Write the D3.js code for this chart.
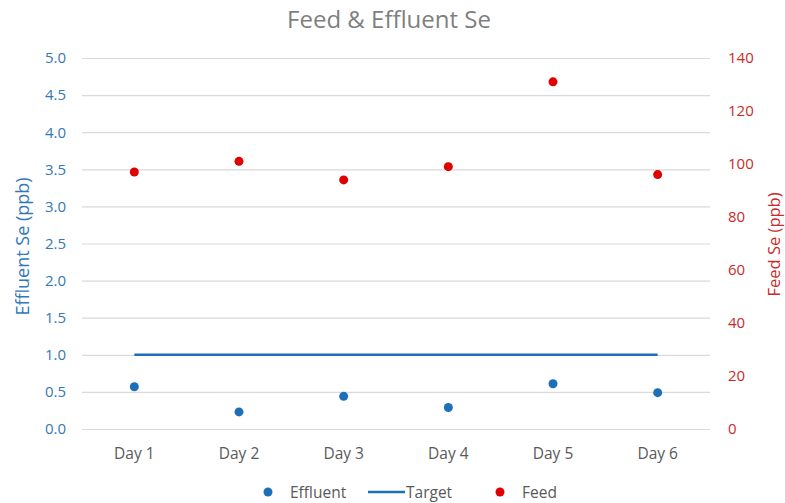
<!DOCTYPE html>
<html>
<head>
<meta charset="utf-8">
<script src="https://cdn.jsdelivr.net/npm/d3@7"></script>
<style>
  html, body { margin: 0; padding: 0; background: #fff; }
  svg { display: block; font-family: "Open Sans", "Noto Sans", sans-serif; }
</style>
</head>
<body>
<svg id="chart" width="785" height="503"></svg>
<script>
// Daily selenium readings
const days = ["Day 1", "Day 2", "Day 3", "Day 4", "Day 5", "Day 6"];
const effluent = [0.57, 0.23, 0.44, 0.29, 0.61, 0.49];   // ppb, left axis
const feed = [97, 101, 94, 99, 131, 96];                 // ppb, right axis
const target = [1.0, 1.0, 1.0, 1.0, 1.0, 1.0];           // ppb, left axis
const leftTicks = [0, 0.5, 1, 1.5, 2, 2.5, 3, 3.5, 4, 4.5, 5];
const rightTicks = [0, 20, 40, 60, 80, 100, 120, 140];

const blue = "#1f6fb8";
const red = "#e00000";
const leftTextColor = "#3478b8";
const rightTextColor = "#cc2a2a";
const tickFont = 15;

const svg = d3.select("#chart");
const margin = { left: 82, right: 75, top: 58, bottom: 74 };
const W = 785, H = 503;

const x = d3.scaleBand().domain(days).range([margin.left, W - margin.right]);
const yL = d3.scaleLinear().domain([0, 5]).range([H - margin.bottom, margin.top]);
const yR = d3.scaleLinear().domain([0, 140]).range([H - margin.bottom, margin.top]);
const cx = d => x(d) + x.bandwidth() / 2;

// Title
svg.append("text")
  .attr("x", 389).attr("y", 28)
  .attr("text-anchor", "middle")
  .attr("fill", "#7f7f7f")
  .attr("font-size", 24)
  .text("Feed & Effluent Se");

// Gridlines + left axis
const leftAxis = svg.append("g")
  .attr("transform", `translate(${margin.left},0)`)
  .call(d3.axisLeft(yL).tickValues(leftTicks).tickFormat(d3.format(".1f"))
    .tickSize(-(W - margin.left - margin.right)).tickPadding(16));
leftAxis.select(".domain").remove();
leftAxis.selectAll(".tick line").attr("stroke", "#d9d9d9").attr("stroke-width", 1.2);
leftAxis.selectAll(".tick text").attr("fill", leftTextColor).attr("font-size", tickFont)
  .attr("font-family", "'Open Sans', sans-serif");

// Right axis
const rightAxis = svg.append("g")
  .attr("transform", `translate(${W - margin.right},0)`)
  .call(d3.axisRight(yR).tickValues(rightTicks).tickSize(0).tickPadding(18));
rightAxis.select(".domain").remove();
rightAxis.selectAll(".tick text").attr("fill", rightTextColor).attr("font-size", tickFont)
  .attr("font-family", "'Open Sans', sans-serif");

// Category axis
const bottomAxis = svg.append("g")
  .attr("transform", `translate(0,${H - margin.bottom})`)
  .call(d3.axisBottom(x).tickSize(0).tickPadding(19));
bottomAxis.select(".domain").remove();
bottomAxis.selectAll(".tick text").attr("fill", "#595959").attr("font-size", 15.5)
  .attr("font-family", "'Open Sans', sans-serif");

// Axis titles
svg.append("text")
  .attr("transform", `translate(29,${(yL(0) + yL(5)) / 2 + 3}) rotate(-90)`)
  .attr("text-anchor", "middle")
  .attr("fill", leftTextColor)
  .attr("font-size", 18)
  .text("Effluent Se (ppb)");
svg.append("text")
  .attr("transform", `translate(780,${(yL(0) + yL(5)) / 2 + 1}) rotate(-90)`)
  .attr("text-anchor", "middle")
  .attr("fill", rightTextColor)
  .attr("font-size", 16.5)
  .text("Feed Se (ppb)");

// Target line
const line = d3.line().x((d, i) => cx(days[i])).y(d => yL(d));
svg.append("path")
  .datum(target)
  .attr("d", line)
  .attr("fill", "none")
  .attr("stroke", blue)
  .attr("stroke-width", 2.5);

// Effluent points
svg.append("g").selectAll("circle")
  .data(effluent)
  .join("circle")
  .attr("cx", (d, i) => cx(days[i]))
  .attr("cy", d => yL(d))
  .attr("r", 4.5)
  .attr("fill", blue);

// Feed points
svg.append("g").selectAll("circle")
  .data(feed)
  .join("circle")
  .attr("cx", (d, i) => cx(days[i]))
  .attr("cy", d => yR(d))
  .attr("r", 4.5)
  .attr("fill", red);

// Legend
const legend = svg.append("g").attr("font-size", 15.5).attr("fill", "#595959");
const ly = 492;
legend.append("circle").attr("cx", 268).attr("cy", ly).attr("r", 4.5).attr("fill", blue);
legend.append("text").attr("x", 290).attr("y", ly + 5.5).attr("fill", "#595959").text("Effluent");
legend.append("line").attr("x1", 368).attr("x2", 405).attr("y1", ly).attr("y2", ly)
  .attr("stroke", blue).attr("stroke-width", 2.5);
legend.append("text").attr("x", 406).attr("y", ly + 5.5).attr("fill", "#595959").text("Target");
legend.append("circle").attr("cx", 500).attr("cy", ly).attr("r", 4.5).attr("fill", red);
legend.append("text").attr("x", 522).attr("y", ly + 5.5).attr("fill", "#595959").text("Feed");
</script>
</body>
</html>
